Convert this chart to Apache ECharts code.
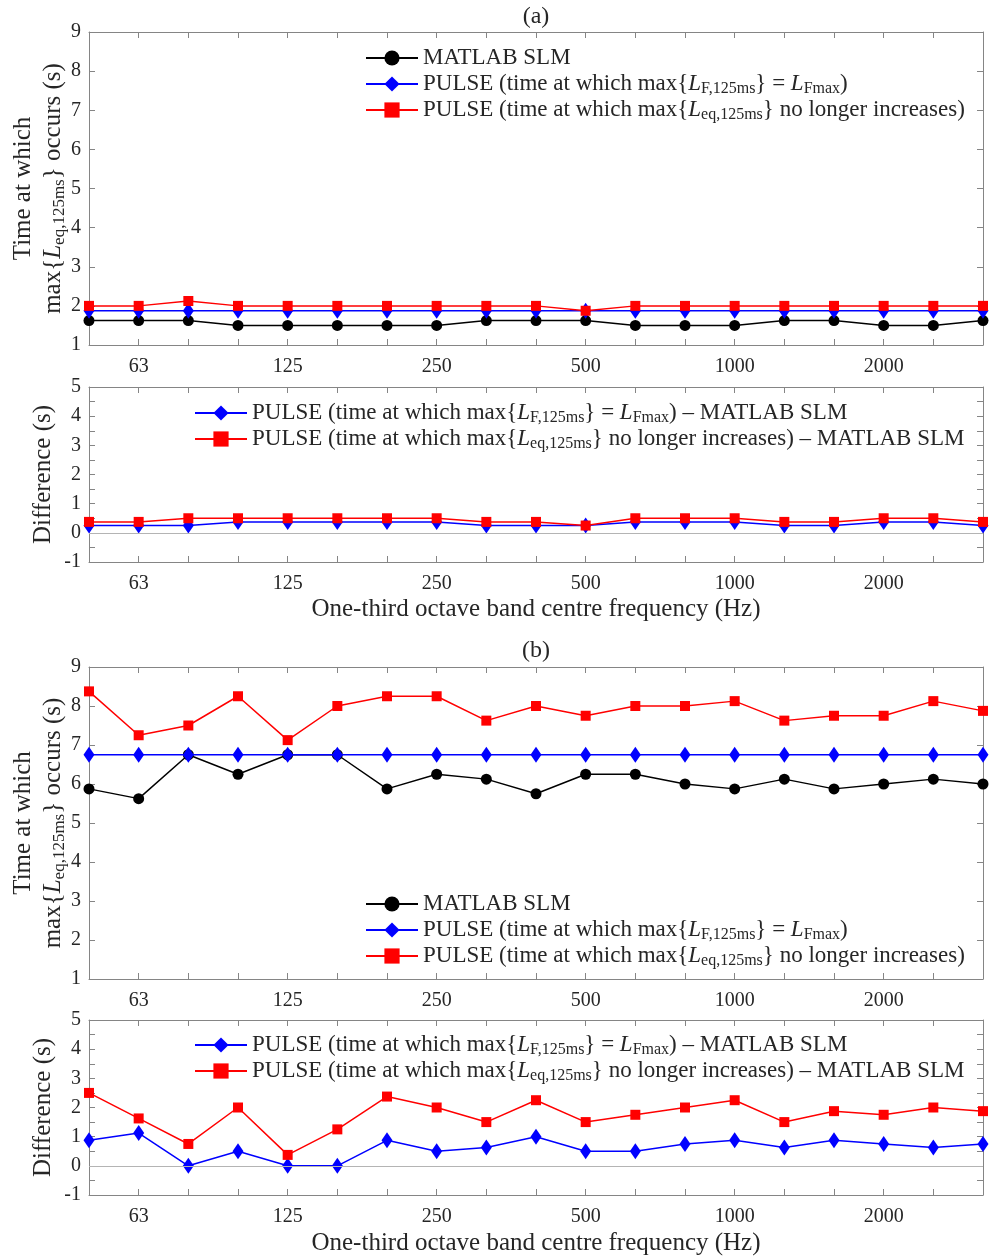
<!DOCTYPE html>
<html>
<head>
<meta charset="utf-8">
<script src="https://cdn.jsdelivr.net/npm/echarts@6/dist/echarts.min.js"></script>
<style>
  html, body { margin: 0; padding: 0; background: #ffffff; }
  #chart { width: 989px; height: 1259px; }
</style>
</head>
<body>
<div id="chart"></div>
<script>
// One-third octave band centre frequencies (Hz)
const bands = ['50', '63', '80', '100', '125', '160', '200', '250', '315', '400',
               '500', '630', '800', '1000', '1250', '1600', '2000', '2500', '3150'];
// Bands that carry a tick label
const bandLabels = ['63', '125', '250', '500', '1000', '2000'];

// (a) time (s) at which max{Leq,125ms} occurs
const aSlm    = [1.625, 1.625, 1.625, 1.5, 1.5, 1.5, 1.5, 1.5, 1.625, 1.625, 1.625, 1.5, 1.5, 1.5, 1.625, 1.625, 1.5, 1.5, 1.625];
const aPulseF = [1.875, 1.875, 1.875, 1.875, 1.875, 1.875, 1.875, 1.875, 1.875, 1.875, 1.875, 1.875, 1.875, 1.875, 1.875, 1.875, 1.875, 1.875, 1.875];
const aPulseEq = [2, 2, 2.125, 2, 2, 2, 2, 2, 2, 2, 1.875, 2, 2, 2, 2, 2, 2, 2, 2];
// (a) differences (s)
const aDiffF  = [0.25, 0.25, 0.25, 0.375, 0.375, 0.375, 0.375, 0.375, 0.25, 0.25, 0.25, 0.375, 0.375, 0.375, 0.25, 0.25, 0.375, 0.375, 0.25];
const aDiffEq = [0.375, 0.375, 0.5, 0.5, 0.5, 0.5, 0.5, 0.5, 0.375, 0.375, 0.25, 0.5, 0.5, 0.5, 0.375, 0.375, 0.5, 0.5, 0.375];

// (b) time (s) at which max{Leq,125ms} occurs
const bSlm    = [5.875, 5.625, 6.75, 6.25, 6.75, 6.75, 5.875, 6.25, 6.125, 5.75, 6.25, 6.25, 6.0, 5.875, 6.125, 5.875, 6.0, 6.125, 6.0];
const bPulseF = [6.75, 6.75, 6.75, 6.75, 6.75, 6.75, 6.75, 6.75, 6.75, 6.75, 6.75, 6.75, 6.75, 6.75, 6.75, 6.75, 6.75, 6.75, 6.75];
const bPulseEq = [8.375, 7.25, 7.5, 8.25, 7.125, 8.0, 8.25, 8.25, 7.625, 8.0, 7.75, 8.0, 8.0, 8.125, 7.625, 7.75, 7.75, 8.125, 7.875];
// (b) differences (s)
const bDiffF  = [0.875, 1.125, 0, 0.5, 0, 0, 0.875, 0.5, 0.625, 1.0, 0.5, 0.5, 0.75, 0.875, 0.625, 0.875, 0.75, 0.625, 0.75];
const bDiffEq = [2.5, 1.625, 0.75, 2.0, 0.375, 1.25, 2.375, 2.0, 1.5, 2.25, 1.5, 1.75, 2.0, 2.25, 1.5, 1.875, 1.75, 2.0, 1.875];

// Series names and their rich-text renderings
const nSlm = 'MATLAB SLM';
const nF   = 'PULSE (time at which max{L_F,125ms} = L_Fmax)';
const nEq  = 'PULSE (time at which max{L_eq,125ms} no longer increases)';
const nDF  = nF + ' – MATLAB SLM';
const nDEq = nEq + ' – MATLAB SLM';
const richNames = {};
richNames[nSlm] = 'MATLAB SLM';
richNames[nF]   = 'PULSE (time at which max{{it|L}{sub|F,125ms}} = {it|L}{sub|Fmax})';
richNames[nEq]  = 'PULSE (time at which max{{it|L}{sub|eq,125ms}} no longer increases)';
richNames[nDF]  = richNames[nF] + ' – MATLAB SLM';
richNames[nDEq] = richNames[nEq] + ' – MATLAB SLM';

const FONT = 'Liberation Serif';
const TXT = '#262626';
const AXC = '#858585';

const grids = [
  { left: 89, width: 894, top: 32,   height: 313 },
  { left: 89, width: 894, top: 387,  height: 175 },
  { left: 89, width: 894, top: 667,  height: 312 },
  { left: 89, width: 894, top: 1020, height: 175 }
];
const yRanges = [[1, 9, 1], [-1, 5, 0.5], [1, 9, 1], [-1, 5, 0.5]];

const xAxes = [], yAxes = [];
grids.forEach((g, k) => {
  const base = {
    type: 'category', gridIndex: k, data: bands, boundaryGap: false,
    axisLine: { show: true, onZero: false, lineStyle: { color: AXC, width: 1 } },
    axisTick: { show: true, inside: true, interval: 0, length: 6, lineStyle: { color: AXC } },
    splitLine: { show: false }
  };
  xAxes.push(Object.assign({}, base, {
    position: 'bottom',
    axisLabel: {
      interval: (i, v) => bandLabels.indexOf(v) >= 0,
      margin: 12, fontFamily: FONT, fontSize: 20, color: TXT
    }
  }));
  xAxes.push(Object.assign({}, base, { position: 'top', axisLabel: { show: false } }));

  const [mn, mx, step] = yRanges[k];
  const ybase = {
    type: 'value', gridIndex: k, min: mn, max: mx, interval: step,
    axisLine: { show: true, onZero: false, lineStyle: { color: AXC, width: 1 } },
    axisTick: { show: true, inside: true, length: 6, lineStyle: { color: AXC } },
    splitLine: { show: false }
  };
  yAxes.push(Object.assign({}, ybase, {
    position: 'left',
    axisLabel: {
      formatter: v => (Number.isInteger(v) ? String(v) : ''),
      margin: 8, fontFamily: FONT, fontSize: 20, color: TXT
    }
  }));
  yAxes.push(Object.assign({}, ybase, { position: 'right', axisLabel: { show: false } }));
});

const styles = {
  slm: { color: '#000000', symbol: 'circle',  symbolSize: 11 },
  f:   { color: '#0000ff', symbol: 'diamond', symbolSize: [11, 16] },
  eq:  { color: '#ff0000', symbol: 'rect',    symbolSize: 10 }
};
function lineSeries(name, data, k, st, z) {
  return {
    type: 'line', name: name, data: data,
    xAxisIndex: 2 * k, yAxisIndex: 2 * k,
    symbol: st.symbol, symbolSize: st.symbolSize, showAllSymbol: true,
    color: st.color,
    itemStyle: { color: st.color },
    lineStyle: { color: st.color, width: 1.5 },
    z: z, animation: false
  };
}
function zeroLine(k) {
  return {
    type: 'line', name: 'zero', data: [], xAxisIndex: 2 * k, yAxisIndex: 2 * k, z: 1,
    markLine: {
      silent: true, symbol: ['none', 'none'], label: { show: false },
      lineStyle: { color: '#b4b4b4', type: 'solid', width: 1 },
      data: [{ yAxis: 0 }], animation: false
    }
  };
}

const series = [
  lineSeries(nSlm, aSlm, 0, styles.slm, 3),
  lineSeries(nF, aPulseF, 0, styles.f, 4),
  lineSeries(nEq, aPulseEq, 0, styles.eq, 5),
  zeroLine(1),
  lineSeries(nDF, aDiffF, 1, styles.f, 4),
  lineSeries(nDEq, aDiffEq, 1, styles.eq, 5),
  lineSeries(nSlm, bSlm, 2, styles.slm, 3),
  lineSeries(nF, bPulseF, 2, styles.f, 4),
  lineSeries(nEq, bPulseEq, 2, styles.eq, 5),
  zeroLine(3),
  lineSeries(nDF, bDiffF, 3, styles.f, 4),
  lineSeries(nDEq, bDiffEq, 3, styles.eq, 5)
];

const legendText = {
  fontFamily: FONT, fontSize: 23, color: TXT, lineHeight: 26,
  rich: {
    it:  { fontFamily: FONT, fontSize: 23, fontStyle: 'italic', color: TXT, lineHeight: 26 },
    sub: { fontFamily: FONT, fontSize: 16, color: TXT, lineHeight: 14, verticalAlign: 'bottom' }
  }
};
function legendAt(names, left, top) {
  return {
    data: names, left: left, top: top, orient: 'vertical', padding: 0,
    itemWidth: 52, itemHeight: 19, itemGap: 0, selectedMode: false,
    formatter: n => richNames[n], textStyle: legendText
  };
}

const axisTitleRich = {
  it:  { fontFamily: FONT, fontSize: 25, fontStyle: 'italic', fill: TXT, lineHeight: 30 },
  sub: { fontFamily: FONT, fontSize: 17, fill: TXT, lineHeight: 17, verticalAlign: 'bottom' }
};
function txt(x, y, text, size, rot, rich) {
  const el = {
    type: 'text', x: x, y: y, silent: true,
    style: {
      text: text, fontFamily: FONT, fontSize: size, fill: TXT, lineHeight: 30,
      align: 'center', verticalAlign: 'middle', textAlign: 'center', textVerticalAlign: 'middle'
    }
  };
  if (rot) el.rotation = rot;
  if (rich) el.style.rich = rich;
  return el;
}
const yTitle = 'Time at which\nmax{{it|L}{sub|eq,125ms}} occurs (s)';
const xTitle = 'One-third octave band centre frequency (Hz)';

const option = {
  animation: false,
  backgroundColor: '#ffffff',
  grid: grids,
  xAxis: xAxes,
  yAxis: yAxes,
  series: series,
  legend: [
    legendAt([nSlm, nF, nEq], 365, 45),
    legendAt([nDF, nDEq], 194, 400),
    legendAt([nSlm, nF, nEq], 365, 891),
    legendAt([nDF, nDEq], 194, 1032)
  ],
  graphic: [
    txt(536, 17, '(a)', 24),
    txt(536, 651, '(b)', 24),
    txt(38, 188.5, yTitle, 25, Math.PI / 2, axisTitleRich),
    txt(43, 474.5, 'Difference (s)', 25, Math.PI / 2),
    txt(536, 609, xTitle, 25),
    txt(38, 823, yTitle, 25, Math.PI / 2, axisTitleRich),
    txt(43, 1107.5, 'Difference (s)', 25, Math.PI / 2),
    txt(536, 1243, xTitle, 25)
  ]
};

const chart = echarts.init(document.getElementById('chart'), null, { renderer: 'canvas' });
chart.setOption(option);
</script>
</body>
</html>
